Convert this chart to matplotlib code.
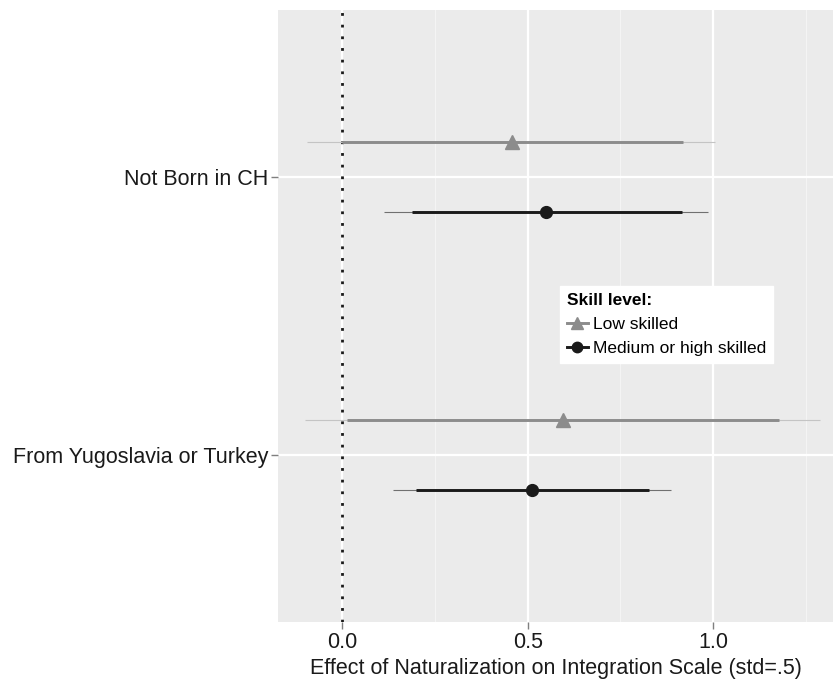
import numpy as np
import matplotlib
matplotlib.use("Agg")
import matplotlib.pyplot as plt
from matplotlib.lines import Line2D

plt.rcParams['font.family'] = ['Liberation Sans', 'DejaVu Sans']

groups = ['From Yugoslavia or Turkey', 'Not Born in CH']
skills = ['Low skilled', 'Medium or high skilled']

# estimates and intervals, order follows groups
low_est = [0.595, 0.457]
low_lo90 = [0.013, 0.0]
low_hi90 = [1.178, 0.918]
low_lo95 = [-0.100, -0.095]
low_hi95 = [1.288, 1.005]

med_est = [0.513, 0.549]
med_lo90 = [0.200, 0.188]
med_hi90 = [0.826, 0.916]
med_lo95 = [0.138, 0.114]
med_hi95 = [0.886, 0.986]

fig = plt.figure(figsize=(8.34, 6.85), dpi=100)
ax = fig.add_axes([278/834, 63/685, 555/834, 612/685])
ax.set_facecolor('#ebebeb')

ypos = np.arange(1, len(groups) + 1)
dodge = 0.125

series = [
    (low_est, low_lo90, low_hi90, low_lo95, low_hi95, '#8c8c8c', '#c4c4c4', '^', 9.5, +dodge),
    (med_est, med_lo90, med_hi90, med_lo95, med_hi95, '#1a1a1a', '#707070', 'o', 8.5, -dodge),
]
for est, lo90, hi90, lo95, hi95, col, col2, mk, ms, off in series:
    yy = ypos + off
    ax.hlines(yy, lo95, hi95, color=col2, lw=0.8, zorder=3)
    ax.hlines(yy, lo90, hi90, color=col, lw=2.1, zorder=4)
    ax.plot(est, yy, marker=mk, ls='none', color=col, ms=ms, zorder=5)

ax.axvline(0, color='#1a1a1a', lw=2, ls=(0, (1, 3.2)), zorder=2)

ax.set_xlim(-0.173, 1.323)
ax.set_ylim(0.4, 2.6)
ax.set_xticks([0.0, 0.5, 1.0])
ax.set_xticklabels(['0.0', '0.5', '1.0'])
ax.set_xticks([0.25, 0.75, 1.25], minor=True)
ax.set_yticks(ypos)
ax.set_yticklabels(groups)
ax.grid(True, which='major', color='white', lw=1.6)
ax.grid(True, which='minor', axis='x', color='#f5f5f5', lw=0.7)
ax.set_axisbelow(True)
for s in ax.spines.values():
    s.set_visible(False)
ax.tick_params(axis='both', which='major', length=5, width=1, color='#7f7f7f',
               labelsize=15.5, labelcolor='#1a1a1a', pad=2)
ax.tick_params(axis='x', which='minor', length=0)
ax.set_xlabel('Effect of Naturalization on Integration Scale (std=.5)',
              fontsize=15.5, color='#1a1a1a', labelpad=4)

handles = [
    Line2D([], [], color='#8c8c8c', marker='^', lw=2.1, ms=8.5),
    Line2D([], [], color='#1a1a1a', marker='o', lw=2.1, ms=7.5),
]
leg = ax.legend(handles, skills, title='Skill level:', loc='upper left',
                bbox_to_anchor=((560 - 278) / 555, (622 - 286) / 612),
                bbox_transform=ax.transAxes, frameon=True, fancybox=False,
                fontsize=12.5, handlelength=1.2, handletextpad=0.3,
                borderpad=0.4, labelspacing=0.5, borderaxespad=0)
leg.get_frame().set_edgecolor('white')
leg.get_frame().set_facecolor('white')
leg.get_frame().set_alpha(1)
leg.get_title().set_fontweight('bold')
leg.get_title().set_fontsize(12.5)
leg._legend_box.align = 'left'

fig.savefig('out.png', dpi=100)
